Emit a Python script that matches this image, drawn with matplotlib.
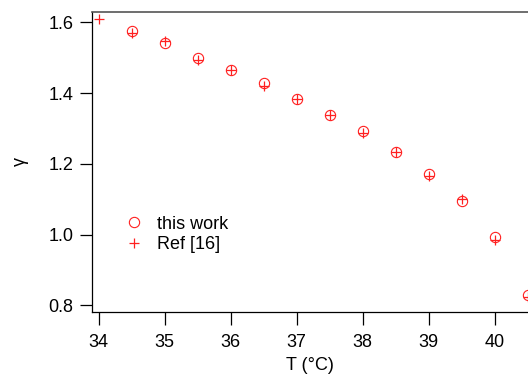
import numpy as np
import matplotlib
matplotlib.use("Agg")
import matplotlib.pyplot as plt

plt.rcParams['font.family'] = ['Liberation Sans', 'DejaVu Sans']

# this work
T_work = [34.5, 35.0, 35.5, 36.0, 36.5, 37.0, 37.5, 38.0, 38.5, 39.0, 39.5, 40.0, 40.5]
g_work = [1.575, 1.541, 1.500, 1.465, 1.428, 1.382, 1.337, 1.293, 1.232, 1.171, 1.095, 0.994, 0.830]

# Ref [16]
T_ref = [34.0, 34.5, 35.0, 35.5, 36.0, 36.5, 37.0, 37.5, 38.0, 38.5, 39.0, 39.5, 40.0, 40.5]
g_ref = [1.609, 1.569, 1.548, 1.492, 1.465, 1.421, 1.382, 1.339, 1.287, 1.232, 1.166, 1.101, 0.985, 0.824]

fig = plt.figure(figsize=(5.28, 3.76), dpi=100)
ax = fig.add_axes([92 / 528, 1 - 312 / 376, 1 - 92 / 528, 300 / 376])

ax.plot(T_work, g_work, 'o', mfc='none', mec='#ff2020', ms=7.4, mew=0.8, label='this work')
ax.plot(T_ref, g_ref, '+', color='#ff2020', ms=7.6, mew=0.9, label='Ref [16]')

ax.set_xlim(33.9, 40.505)
ax.set_ylim(0.781, 1.629)
ax.set_xticks([34, 35, 36, 37, 38, 39, 40])
ax.set_yticks([0.8, 1.0, 1.2, 1.4, 1.6])
ax.yaxis.set_major_formatter(matplotlib.ticker.FormatStrFormatter('%.1f'))

ax.spines['right'].set_visible(False)
ax.spines['top'].set_color('#555555')
ax.spines['top'].set_linewidth(1.2)
for s in ['left', 'bottom']:
    ax.spines[s].set_linewidth(0.9)

ax.tick_params(direction='out', length=9, width=0.9, labelsize=13)
ax.tick_params(axis='x', pad=7)
ax.tick_params(axis='y', pad=4.5)

ax.set_xlabel('T (°C)', fontsize=13, labelpad=4)
ax.set_ylabel('γ', fontsize=13, labelpad=14)

ax.legend(loc='upper left', bbox_to_anchor=(0.05, 0.345), frameon=False, fontsize=13,
          handlelength=1.4, handletextpad=0.6, labelspacing=0.2, borderaxespad=0)

fig.savefig('out.png', dpi=100)
